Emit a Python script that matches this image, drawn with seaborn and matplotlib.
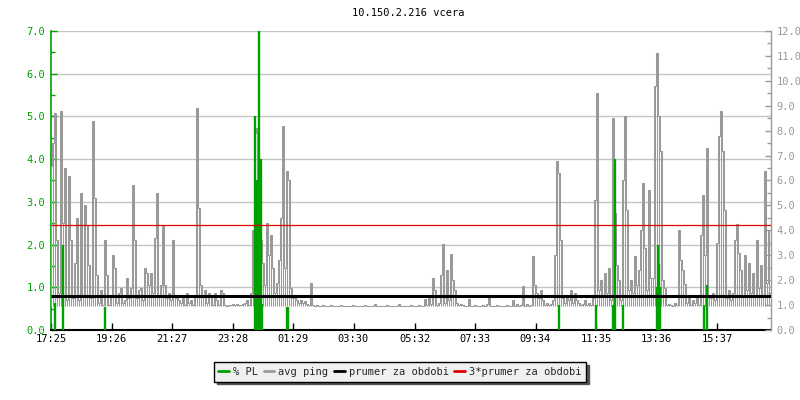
import numpy as np
import pandas as pd
import matplotlib
matplotlib.use("Agg")
import matplotlib.pyplot as plt
import seaborn as sns
from matplotlib.lines import Line2D
from matplotlib.ticker import MultipleLocator, FormatStrFormatter

# ---------------- data ----------------
title = "10.150.2.216 vcera"
tick_labels = ["17:25", "19:26", "21:27", "23:28", "01:29", "03:30",
               "05:32", "07:33", "09:34", "11:35", "13:36", "15:37"]
tick_minutes = [0, 121, 242, 363, 484, 605, 727, 848, 969, 1090, 1211, 1332]
span_minutes = 1440
step_minutes = 4

# avg ping [ms], one sample every 4 minutes from 17:25
ping_ms = [
    6.6, 7.5, 8.7, 3.6, 1.5, 8.8, 4.3, 6.5, 1.2, 6.2,
    3.6, 1.3, 2.7, 4.5, 1.2, 5.5, 1.4, 5.0, 4.2, 2.6,
    1.3, 8.4, 5.3, 2.2, 1.1, 1.6, 1.0, 3.6, 2.2, 1.0,
    1.4, 3.0, 2.5, 1.1, 1.5, 1.7, 1.1, 1.2, 2.1, 1.3,
    1.7, 5.8, 3.6, 1.3, 1.6, 1.7, 1.2, 2.5, 2.3, 1.8,
    2.3, 1.5, 3.7, 5.5, 1.4, 1.8, 4.2, 1.8, 1.3, 1.5,
    1.2, 3.6, 1.4, 1.3, 1.2, 1.1, 1.3, 1.0, 1.5, 1.1,
    1.2, 1.0, 1.4, 8.9, 4.9, 1.8, 1.4, 1.6, 1.1, 1.5,
    1.4, 1.0, 1.5, 1.2, 1.0, 1.6, 1.5, 1.0, 0.95, 1.0,
    1.0, 1.05, 1.0, 1.05, 1.0, 1.0, 1.05, 1.1, 1.2, 1.0,
    1.5, 4.0, 7.9, 8.1, 5.0, 3.6, 2.7, 1.8, 4.3, 3.0,
    3.8, 2.5, 1.5, 1.9, 2.8, 4.5, 8.2, 2.5, 6.4, 6.0,
    1.7, 1.3, 1.4, 1.2, 1.1, 1.2, 1.1, 1.15, 1.05, 1.0,
    1.9, 1.0, 0.95, 1.0, 0.95, 0.95, 1.0, 0.95, 0.95, 0.95,
    1.0, 0.95, 0.95, 0.95, 0.95, 1.0, 0.95, 0.95, 0.95, 0.95,
    0.95, 1.0, 0.95, 0.95, 0.95, 0.95, 0.95, 1.0, 0.95, 0.95,
    0.95, 0.95, 1.05, 0.95, 0.95, 0.95, 0.95, 0.95, 1.0, 0.95,
    0.95, 0.95, 0.95, 0.95, 1.05, 0.95, 0.95, 0.95, 0.95, 0.95,
    1.0, 0.95, 0.95, 0.95, 1.0, 0.95, 0.95, 1.25, 1.0, 1.4,
    1.05, 2.1, 1.6, 1.0, 1.1, 2.2, 3.45, 1.1, 2.4, 1.2,
    3.05, 2.0, 1.6, 1.1, 1.0, 1.05, 1.0, 0.95, 0.95, 1.25,
    0.95, 0.95, 1.0, 0.95, 0.95, 0.95, 1.0, 0.95, 1.05, 1.35,
    0.95, 0.95, 0.95, 1.0, 0.95, 0.95, 0.95, 0.95, 1.0, 0.95,
    0.95, 1.2, 0.95, 1.05, 0.95, 1.0, 1.75, 0.95, 1.05, 0.95,
    1.0, 2.95, 1.8, 1.5, 1.3, 1.6, 1.2, 1.0, 1.1, 1.0,
    1.05, 1.2, 3.0, 6.8, 6.3, 3.6, 1.3, 1.1, 1.3, 1.2,
    1.6, 1.1, 1.5, 1.2, 1.1, 1.0, 1.05, 1.2, 1.0, 1.1,
    1.0, 1.3, 5.2, 9.5, 1.6, 2.0, 1.4, 2.3, 1.5, 2.5,
    1.2, 8.5, 4.7, 2.6, 2.0, 1.2, 6.0, 8.6, 4.8, 1.6,
    2.0, 1.5, 2.95, 1.8, 2.4, 4.0, 5.9, 3.3, 1.6, 5.6,
    2.1, 2.1, 9.8, 11.1, 8.6, 7.2, 2.0, 1.7, 1.0, 1.05,
    1.0, 0.95, 1.1, 1.0, 4.0, 2.8, 2.4, 1.85, 1.1, 1.3,
    1.0, 1.2, 1.1, 1.3, 1.0, 3.8, 5.4, 3.0, 7.3, 1.4,
    1.3, 1.5, 1.2, 3.5, 7.8, 8.8, 7.2, 4.8, 1.3, 1.6,
    1.2, 1.5, 3.6, 4.25, 3.1, 2.4, 1.4, 3.0, 1.6, 2.7,
    1.5, 2.3, 1.4, 3.6, 1.7, 2.6, 1.4, 6.4, 1.9, 4.0,
]

# packet loss [%] (only non-zero samples)
pl_minutes = [7, 23, 107, 408, 410, 412, 414, 416, 418, 420, 422,
              471, 473, 1016, 1090, 1123, 1125, 1127, 1143,
              1211, 1213, 1215, 1217, 1305, 1311]
pl_percent = [0.63, 2.0, 0.55, 5.0, 0.6, 3.5, 0.6, 7.0, 0.6, 4.0, 0.6,
              0.55, 0.55, 0.58, 0.58, 0.58, 0.58, 4.0, 0.58,
              1.0, 2.0, 1.55, 1.0, 0.58, 1.05]

avg_ms = 1.37      # prumer za obdobi
avg3_ms = 4.2      # 3*prumer za obdobi

legend_labels = ["% PL", "avg ping", "prumer za obdobi", "3*prumer za obdobi"]

# ---------------- style ----------------
GREEN = "#00a000"
GRAY = "#9a9a9a"
RED = "#e00000"
FS = 7.5

sns.set_theme(style="white")
plt.rcParams["font.family"] = ["DejaVu Sans Mono", "DejaVu Sans"]

fig = plt.figure(figsize=(8, 4), dpi=100)
ax = fig.add_axes([51 / 800, 70 / 400, 720 / 800, 299 / 400])
ax_ping = ax.twinx()
ax_pl = ax.twinx()

ax.set_zorder(0)
ax_ping.set_zorder(1)
ax_pl.set_zorder(2)
ax_ping.patch.set_visible(False)
ax_pl.patch.set_visible(False)

# grid (behind the data)
ax.set_ylim(0, 7)
ax.yaxis.set_major_locator(MultipleLocator(1))
ax.yaxis.set_minor_locator(MultipleLocator(0.5))
ax.yaxis.set_major_formatter(FormatStrFormatter("%.1f"))
ax.grid(axis="y", which="major", color="#c4c4c4", lw=1.0)
ax.grid(axis="x", visible=False)

# avg ping: dense per-sample spikes
df = pd.DataFrame({"minute": np.arange(len(ping_ms)) * step_minutes,
                   "ping": ping_ms})
sns.lineplot(data=df, x="minute", y="ping", ax=ax_ping, color=GRAY,
             lw=0.75, drawstyle="steps-mid", errorbar=None, legend=False)
ax_ping.vlines(df["minute"], df["ping"].min(), df["ping"], color=GRAY,
               lw=0.75)
ax_ping.set_ylim(0, 12)

# packet loss
ax_pl.vlines(pl_minutes, 0, pl_percent, color=GREEN, lw=1.7)
ax_pl.set_ylim(0, 7)

# average lines (drawn on top, in ms units)
ax_pl.plot([0, span_minutes], [avg_ms, avg_ms], transform=ax_ping.transData,
           color="black", lw=2.2, solid_capstyle="butt")
ax_pl.plot([0, span_minutes], [avg3_ms, avg3_ms], transform=ax_ping.transData,
           color=RED, lw=0.9, solid_capstyle="butt")
ax_pl.set_ylim(0, 7)

for a in (ax, ax_ping, ax_pl):
    a.set_xlim(0, span_minutes)
    a.set_xlabel("")
    a.set_ylabel("")

# x axis
ax.set_xticks(tick_minutes)
ax.set_xticklabels(tick_labels)
ax.tick_params(axis="x", direction="in", length=5, width=1, color="black",
               labelcolor="black", labelsize=FS, pad=3, bottom=True)

# left axis
ax.tick_params(axis="y", which="major", direction="in", length=4, width=1,
               color=GREEN, labelcolor=GREEN, labelsize=FS, pad=4, left=True)
ax.tick_params(axis="y", which="minor", direction="in", length=3, width=1,
               color=GREEN, left=True)

# right axis
ax_ping.yaxis.set_major_locator(MultipleLocator(1))
ax_ping.yaxis.set_minor_locator(MultipleLocator(0.5))
ax_ping.yaxis.set_major_formatter(FormatStrFormatter("%.1f"))
ax_ping.tick_params(axis="y", which="major", direction="in", length=4,
                    width=1, color=GRAY, labelcolor=GRAY, labelsize=FS,
                    pad=4, right=True)
ax_ping.tick_params(axis="y", which="minor", direction="in", length=3,
                    width=1, color=GRAY, right=True)

ax_pl.set_yticks([])
ax_pl.tick_params(axis="both", which="both", length=0, labelright=False,
                  labelbottom=False)

for s in ax.spines.values():
    s.set_visible(False)
ax.spines["left"].set_visible(True)
ax.spines["left"].set_color(GREEN)
ax.spines["left"].set_linewidth(1.2)
ax.spines["bottom"].set_visible(True)
ax.spines["bottom"].set_color("black")
ax.spines["bottom"].set_linewidth(1.5)

for s in ax_ping.spines.values():
    s.set_visible(False)
ax_ping.spines["right"].set_visible(True)
ax_ping.spines["right"].set_color(GRAY)
ax_ping.spines["right"].set_linewidth(1.0)

for s in ax_pl.spines.values():
    s.set_visible(False)

# title
fig.text(408 / 800, 1 - 13 / 400, title, ha="center", va="center",
         fontsize=FS, color="black")

# legend
handles = [Line2D([], [], color=GREEN, lw=2),
           Line2D([], [], color=GRAY, lw=2),
           Line2D([], [], color="black", lw=2),
           Line2D([], [], color=RED, lw=2)]
leg = fig.legend(handles, legend_labels, loc="center",
                 bbox_to_anchor=(400 / 800, 1 - 372 / 400), ncol=4,
                 frameon=True, fancybox=False,
                 shadow={"color": "#555555", "alpha": 1.0},
                 handlelength=1.0, handletextpad=0.4, columnspacing=0.55,
                 borderpad=0.45, fontsize=FS)
leg.get_frame().set_edgecolor("black")
leg.get_frame().set_facecolor("#f0f0f0")
leg.get_frame().set_linewidth(1.0)

fig.savefig("out.png", dpi=100, facecolor="white")
